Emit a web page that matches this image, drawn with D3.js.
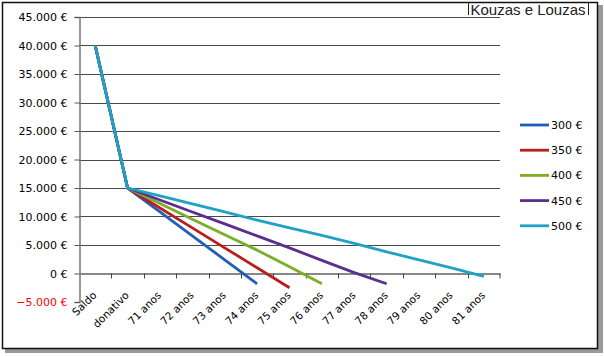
<!DOCTYPE html>
<html><head><meta charset="utf-8">
<script src="https://cdn.jsdelivr.net/npm/d3@7"></script>
<style>body{margin:0;background:#fff}svg{display:block}</style>
</head><body>
<svg id="c" width="604" height="356"></svg>
<script>
const categories = ["Saldo","donativo","71 anos","72 anos","73 anos","74 anos","75 anos","76 anos","77 anos","78 anos","79 anos","80 anos","81 anos"];
const seriesNames = ["300 €","350 €","400 €","450 €","500 €"];
const s300 = [40000,15000,10800,6600,2400,-1800];
const s350 = [40000,15000,11500,8000,4500,1000,-2500];
const s400 = [40000,15000,12300,9500,6800,4100,1200,-1800];
const s450 = [40000,15000,12900,10800,8700,6600,4500,2300,150,-1800];
const s500 = [40000,15000,13600,12200,10800,9350,8000,6700,5300,3800,2400,1000,-500];
const yTicks = [-5000,0,5000,10000,15000,20000,25000,30000,35000,40000,45000];
const colors = ["#1f5fb8","#b81e1e","#7cae27","#5b2f8e","#1ea2c8"];
const series = [s300,s350,s400,s450,s500];

const svg = d3.select("#c");
// frame with shadow
svg.append("rect").attr("x",5).attr("y",5).attr("width",598).attr("height",348).attr("fill","#9a9a9a");
svg.append("rect").attr("x",2.5).attr("y",2.5).attr("width",595).attr("height",346).attr("fill","#fff").attr("stroke","#111").attr("stroke-width",1.5);

const x = d3.scaleBand().domain(categories).range([79,500]);
const y = d3.scaleLinear().domain([-5000,45000]).range([302,17]);
const cx = c => x(c) + x.bandwidth()/2;

const loc = d3.formatLocale({decimal:",",thousands:".",grouping:[3],currency:["",""]});
const fmt = v => loc.format(",.0f")(v) + " €";

// gridlines
svg.append("g").selectAll("line").data(yTicks.filter(v=>v>0)).join("line")
  .attr("x1",79).attr("x2",500).attr("y1",d=>Math.round(y(d))+0.5).attr("y2",d=>Math.round(y(d))+0.5)
  .attr("stroke","#4a4a4a").attr("stroke-width",1);

// y axis
const ya = svg.append("g").attr("transform","translate(79.5,0)")
  .call(d3.axisLeft(y).tickValues(yTicks).tickFormat(fmt).tickSize(5).tickPadding(7));
ya.select(".domain").attr("stroke","#777").attr("stroke-width",1.5);
ya.selectAll(".tick line").attr("stroke","#555");
ya.selectAll("text").attr("font-family","DejaVu Sans").attr("font-size",11).attr("fill",d=>d<0?"#ff0000":"#000");

// zero axis
const xa = svg.append("g").attr("transform",`translate(0,${y(0)})`)
  .call(d3.axisBottom(x).tickSize(0).tickFormat(""));
xa.select(".domain").attr("stroke","#888").attr("stroke-width",2);
svg.append("g").selectAll("line").data(categories.slice(1)).join("line")
  .attr("x1",d=>Math.round(x(d))+0.5).attr("x2",d=>Math.round(x(d))+0.5)
  .attr("y1",y(0)).attr("y2",y(0)+5).attr("stroke","#444");
svg.append("line").attr("x1",500).attr("x2",500).attr("y1",y(0)).attr("y2",y(0)+5).attr("stroke","#444");

// x labels
svg.append("g").selectAll("text").data(categories).join("text")
  .attr("transform",d=>`translate(${cx(d)+2},296) rotate(-45)`)
  .attr("text-anchor","end").attr("font-family","DejaVu Sans").attr("font-size",10.5)
  .text(d=>d);

// lines
const line = d3.line().x((d,i)=>cx(categories[i])).y(d=>y(d));
series.forEach((s,k)=>{
  svg.append("path").attr("d",line(s)).attr("fill","none").attr("stroke",colors[k])
    .attr("stroke-width",2.8).attr("stroke-linejoin","round");
});

// legend
const lg = svg.append("g").selectAll("g").data(seriesNames).join("g")
  .attr("transform",(d,i)=>`translate(520,${125+i*25.2})`);
lg.append("line").attr("x1",0).attr("x2",29).attr("stroke",(d,i)=>colors[i]).attr("stroke-width",2.8);
lg.append("text").attr("x",31).attr("y",4).attr("font-family","DejaVu Sans").attr("font-size",11).text(d=>d);

// watermark
svg.append("line").attr("x1",468.5).attr("x2",468.5).attr("y1",2).attr("y2",15).attr("stroke","#222");
svg.append("line").attr("x1",588.5).attr("x2",588.5).attr("y1",2).attr("y2",15).attr("stroke","#222");
svg.append("text").attr("x",528).attr("y",15).attr("text-anchor","middle")
  .attr("font-family","Liberation Sans").attr("font-size",15).attr("fill","#222").text("Kouzas e Louzas");
</script>
</body></html>
